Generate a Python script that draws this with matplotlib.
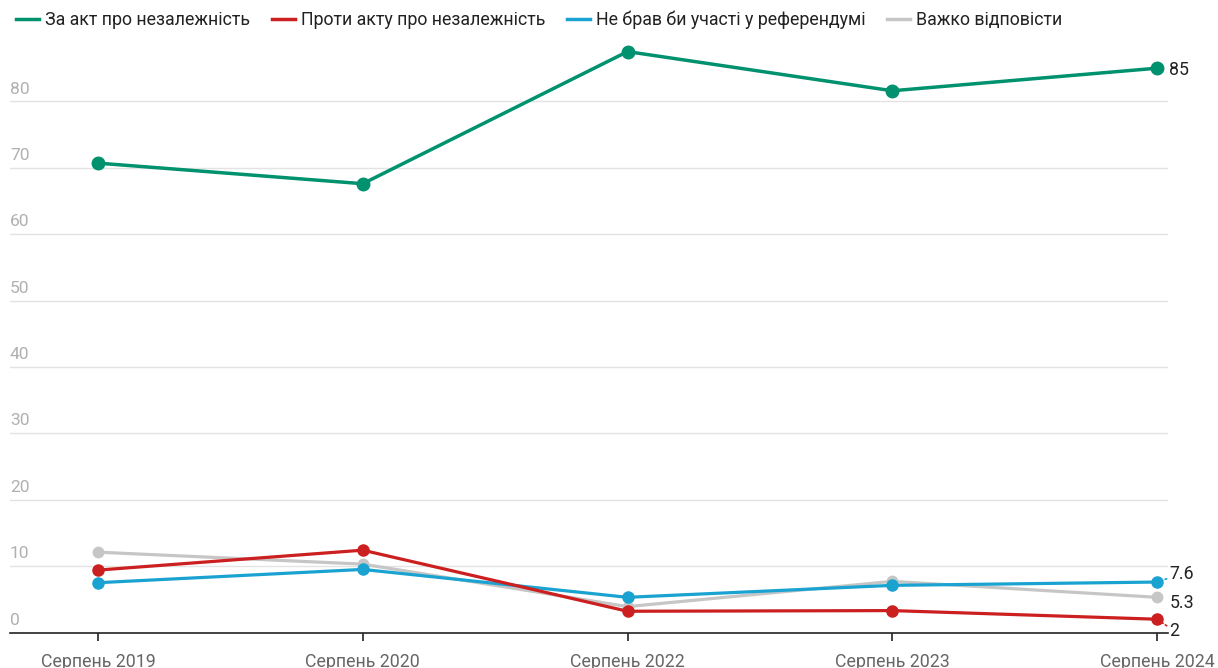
import matplotlib
matplotlib.use("Agg")
import matplotlib.pyplot as plt
from matplotlib.lines import Line2D

plt.rcParams['font.family'] = ['Roboto', 'DejaVu Sans']

categories = ["Серпень 2019", "Серпень 2020", "Серпень 2022", "Серпень 2023", "Серпень 2024"]
series_names = ["За акт про незалежність", "Проти акту про незалежність",
                "Не брав би участі у референдумі", "Важко відповісти"]
za = [70.7, 67.6, 87.5, 81.6, 85]
proty = [9.4, 12.4, 3.2, 3.3, 2]
ne_brav = [7.5, 9.5, 5.3, 7.1, 7.6]
vazhko = [12.1, 10.3, 3.9, 7.7, 5.3]
y_ticks = [10, 20, 30, 40, 50, 60, 70, 80]

colors = ["#00916e", "#cc1f1f", "#1aa3d1", "#c6c6c6"]

W, H = 1218, 668
fig = plt.figure(figsize=(W / 100, H / 100), dpi=100)
ax = fig.add_axes([10 / W, (H - 632.5) / H, 1158 / W, (632.5 - 35) / H])
x = list(range(len(categories)))

ax.set_xlim((10 - 98) / 264.75, (1168 - 98) / 264.75)
ax.set_ylim(0, 90)

for yv in y_ticks:
    ax.axhline(yv, color="#e3e3e3", lw=1.0, zorder=0)
for yv in [0] + y_ticks:
    ax.annotate(str(yv), xy=(0, yv), xycoords=("axes fraction", "data"),
                xytext=(0, 3.5), textcoords="offset points",
                ha="left", va="bottom", fontsize=12.5, color="#b0b0b0")

data = [(vazhko, colors[3], 2.3, 7.5), (ne_brav, colors[2], 2.3, 8),
        (proty, colors[1], 2.3, 8), (za, colors[0], 2.5, 9)]
for i, (vals, c, lw, ms) in enumerate(data):
    ax.plot(x, vals, color=c, lw=lw, marker="o", ms=ms, zorder=2 + i,
            solid_capstyle="round", solid_joinstyle="round", clip_on=False)

for s in ["top", "right", "left"]:
    ax.spines[s].set_visible(False)
ax.spines["bottom"].set_color("#222222")
ax.spines["bottom"].set_linewidth(1.2)
ax.set_yticks([])
ax.set_xticks(x)
ax.set_xticklabels(categories, fontsize=12.8, color="#666666")
ax.tick_params(axis="x", length=6, width=1.2, color="#222222", pad=9)

# end labels
lx = x[-1]
lab_fs = 12.8
ax.annotate(f"{za[-1]:g}", xy=(lx, za[-1]), xytext=(9, -1.5), textcoords="offset points",
            ha="left", va="center", fontsize=lab_fs, color="#222222")
ax.annotate(f"{ne_brav[-1]:g}", xy=(lx, ne_brav[-1]), xytext=(9, 6), textcoords="offset points",
            ha="left", va="center", fontsize=lab_fs, color="#222222",
            arrowprops=dict(arrowstyle="-", color=colors[2], ls=":", lw=1.2,
                            shrinkA=0, shrinkB=4))
ax.annotate(f"{vazhko[-1]:g}", xy=(lx, vazhko[-1]), xytext=(9, -4), textcoords="offset points",
            ha="left", va="center", fontsize=lab_fs, color="#222222")
ax.annotate(f"{proty[-1]:g}", xy=(lx, proty[-1]), xytext=(9, -8.5), textcoords="offset points",
            ha="left", va="center", fontsize=lab_fs, color="#222222",
            arrowprops=dict(arrowstyle="-", color=colors[1], ls=":", lw=1.2,
                            shrinkA=0, shrinkB=4))

handles = [Line2D([0], [0], color=c, lw=2.5) for c in colors]
fig.legend(handles, series_names, loc="upper left", bbox_to_anchor=(0.0, 1.008),
           ncol=4, frameon=False, fontsize=12.8, handlelength=1.3, handletextpad=0.35,
           columnspacing=1.2, labelcolor="#222222")

fig.savefig("out.png", dpi=100)
